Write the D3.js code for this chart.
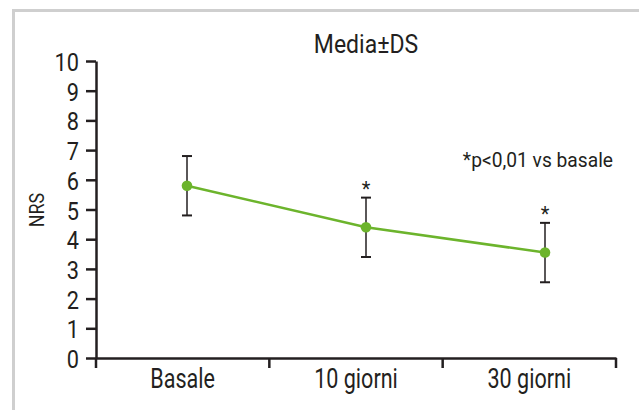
<!DOCTYPE html>
<html>
<head>
<meta charset="utf-8">
<script src="https://cdn.jsdelivr.net/npm/d3@7"></script>
<style>
  body { margin: 0; background: #fff; }
  text { font-family: "Roboto", "Liberation Sans", sans-serif; fill: #231f20; }
</style>
</head>
<body>
<script>
// Data
var categories = ["Basale", "10 giorni", "30 giorni"];
var means = [5.8, 4.4, 3.55];
var sds = [1.0, 1.0, 1.0];
var significant = [false, true, true];
var yTicks = [0, 1, 2, 3, 4, 5, 6, 7, 8, 9, 10];

var W = 639, H = 410;
var margin = { top: 61, right: 23, bottom: 52, left: 96 },
    width = W - margin.left - margin.right,
    height = H - margin.top - margin.bottom;

// squeeze text horizontally to imitate a condensed face
function condense(sel, k) {
    sel.each(function () {
        var len = this.getComputedTextLength();
        d3.select(this)
            .attr("textLength", len * k)
            .attr("lengthAdjust", "spacingAndGlyphs");
    });
}

var svg = d3.select("body").append("svg")
    .attr("width", W)
    .attr("height", H);

// frame
svg.append("path")
    .attr("d", "M13.5," + H + "V10.5H" + W)
    .attr("fill", "none")
    .attr("stroke", "#cfcfcf")
    .attr("stroke-width", 3);

var g = svg.append("g")
    .attr("transform", "translate(" + margin.left + "," + margin.top + ")");

// scales
var x = d3.scaleBand().domain(categories).range([0, width]);
var xp = d3.scalePoint().domain(categories).range([91, 449]);
var y = d3.scaleLinear().domain([0, 10]).range([height, 0]);

// y axis
var yAxis = g.append("g")
    .call(d3.axisLeft(y).tickValues(yTicks).tickSize(10).tickPadding(7).tickSizeOuter(0));
yAxis.select(".domain").attr("stroke", "#231f20").attr("stroke-width", 2.5);
yAxis.selectAll(".tick line").attr("stroke", "#231f20").attr("stroke-width", 2.5);
yAxis.selectAll(".tick text")
    .attr("font-size", 26.5)
    .attr("font-family", null)
    .attr("fill", "#231f20")
    .attr("dy", "0.36em")
    .call(condense, 0.82);

// x axis
var xAxis = g.append("g")
    .attr("transform", "translate(0," + height + ")")
    .call(d3.axisBottom(x).tickSize(0).tickPadding(10));
xAxis.select(".domain").attr("stroke", "#231f20").attr("stroke-width", 2.5);
xAxis.selectAll(".tick text")
    .attr("font-size", 28)
    .attr("font-family", null)
    .attr("fill", "#231f20")
    .call(condense, 0.77);
// band boundary ticks
var bounds = categories.map(function (c) { return x(c); }).concat([width]);
g.selectAll(".bt")
    .data(bounds)
    .enter().append("line")
    .attr("x1", function (d) { return d; })
    .attr("x2", function (d) { return d; })
    .attr("y1", height)
    .attr("y2", height + 10)
    .attr("stroke", "#231f20")
    .attr("stroke-width", 2.5);

// y label
svg.append("text")
    .attr("transform", "translate(44,210) rotate(-90)")
    .attr("text-anchor", "middle")
    .attr("font-size", 21)
    .text("NRS")
    .call(condense, 0.85);

// title
svg.append("text")
    .attr("x", 366)
    .attr("y", 53)
    .attr("text-anchor", "middle")
    .attr("font-size", 25)
    .text("Media±DS")
    .call(condense, 0.92);

// note
svg.append("text")
    .attr("x", 613)
    .attr("y", 167)
    .attr("text-anchor", "end")
    .attr("font-size", 20)
    .text("*p<0,01 vs basale")
    .call(condense, 0.96);

var data = categories.map(function (c, i) {
    return { cat: c, mean: means[i], sd: sds[i], sig: significant[i] };
});

// error bars
var eb = g.selectAll(".eb").data(data).enter().append("g");
eb.append("line")
    .attr("x1", function (d) { return xp(d.cat); })
    .attr("x2", function (d) { return xp(d.cat); })
    .attr("y1", function (d) { return y(d.mean + d.sd); })
    .attr("y2", function (d) { return y(d.mean - d.sd); })
    .attr("stroke", "#231f20")
    .attr("stroke-width", 1.5);
[1, -1].forEach(function (s) {
    eb.append("line")
        .attr("x1", function (d) { return xp(d.cat) - 5; })
        .attr("x2", function (d) { return xp(d.cat) + 5; })
        .attr("y1", function (d) { return y(d.mean + s * d.sd); })
        .attr("y2", function (d) { return y(d.mean + s * d.sd); })
        .attr("stroke", "#231f20")
        .attr("stroke-width", 2);
});

// line
var line = d3.line()
    .x(function (d) { return xp(d.cat); })
    .y(function (d) { return y(d.mean); });
g.append("path")
    .datum(data)
    .attr("d", line)
    .attr("fill", "none")
    .attr("stroke", "#6cb42c")
    .attr("stroke-width", 2.5);

g.selectAll(".pt").data(data).enter().append("circle")
    .attr("cx", function (d) { return xp(d.cat); })
    .attr("cy", function (d) { return y(d.mean); })
    .attr("r", 5.3)
    .attr("fill", "#6cb42c");

// significance stars
g.selectAll(".star").data(data.filter(function (d) { return d.sig; })).enter().append("text")
    .attr("x", function (d) { return xp(d.cat); })
    .attr("y", function (d) { return y(d.mean + d.sd) - 2; })
    .attr("text-anchor", "middle")
    .attr("font-size", 20)
    .text("*");
</script>
</body>
</html>
